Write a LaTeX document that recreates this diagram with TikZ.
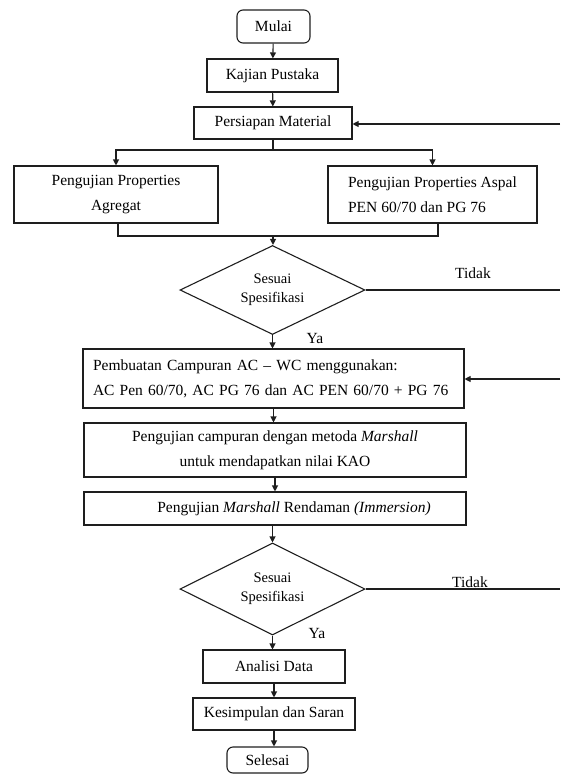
\documentclass[tikz,border=0pt]{standalone}
\usepackage{fontspec}
\setmainfont{Liberation Serif}
\usetikzlibrary{shapes.geometric,arrows.meta,calc}
\definecolor{ink}{HTML}{1E1E1E}
\newcommand{\mainf}{\fontsize{15.5}{25}\selectfont}
\newcommand{\decf}{\fontsize{14.5}{19}\selectfont}
\tikzset{
  box/.style={draw=ink, line width=1.1pt, rectangle, inner sep=0pt, align=center, font=\mainf, text=black},
  term/.style={box, rounded corners=6pt},
  dec/.style={draw=ink, line width=1.1pt, diamond, aspect=2, inner sep=0pt, align=center, font=\decf, text=black},
  lbl/.style={font=\mainf, inner sep=0pt, text=black},
  arr/.style={draw=ink, line width=1.1pt, -{Triangle[length=6pt,width=6pt]}},
  ln/.style={draw=ink, line width=1.1pt}
}
\begin{document}
\begin{tikzpicture}[x=1pt,y=-1pt]
\useasboundingbox (0,0) rectangle (560,776);
% nodes
\node[term, minimum width=73pt, minimum height=33pt] (mulai) at (273.5,26.5) {Mulai};
\node[box, minimum width=131pt, minimum height=33pt] (kp) at (272.5,75.5) {Kajian Pustaka};
\node[box, minimum width=158pt, minimum height=32pt] (pm) at (273,123) {Persiapan Material};
\node[box, minimum width=204pt, minimum height=57pt] (agr) at (116,194.5) {Pengujian Properties\\Agregat};
\node[box, align=left, minimum width=209pt, minimum height=57pt] (asp) at (432.5,194.5) {Pengujian Properties Aspal\\PEN 60/70 dan PG 76};
\node[dec, minimum width=185pt, minimum height=89pt] (d1) at (272.5,290) {Sesuai\\Spesifikasi};
\node[lbl] (t1) at (473,273) {Tidak};
\node[lbl] (y1) at (315,338) {Ya};
\node[box, align=left, text width=361pt, inner xsep=10pt, minimum height=59pt] (pc) at (273.5,378.5) {Pembuatan Campuran AC -- WC menggunakan:\\AC Pen 60/70, AC PG 76 dan AC PEN 60/70 + PG 76};
\node[box, minimum width=382pt, minimum height=54pt] (mar) at (275,450) {Pengujian campuran dengan metoda \textit{Marshall}\\untuk mendapatkan nilai KAO};
\node[box, minimum width=382pt, minimum height=33pt] (imm) at (275,508.5) {};
\node[lbl] (immt) at (294,508.5) {Pengujian \textit{Marshall} Rendaman \textit{(Immersion)}};
\node[dec, minimum width=185pt, minimum height=92pt] (d2) at (272.5,589) {Sesuai\\Spesifikasi};
\node[lbl] (t2) at (470,582) {Tidak};
\node[lbl] (y2) at (317,633) {Ya};
\node[box, minimum width=142pt, minimum height=33pt] (ad) at (274,666.5) {Analisi Data};
\node[box, minimum width=162pt, minimum height=32pt] (ks) at (274,714) {Kesimpulan dan Saran};
\node[term, minimum width=81pt, minimum height=26pt] (sel) at (267.5,760) {Selesai};
% coordinates
\coordinate (br) at (273,150);
\coordinate (mg) at (273,236);
\coordinate (rin1) at (560,124);
\coordinate (rout1) at (560,290);
\coordinate (rin2) at (560,379);
\coordinate (rout2) at (560,589);
% connectors
\draw[arr] (mulai) -- (kp);
\draw[arr] (kp) -- (pm);
\draw[ln] (pm.south) -- (br);
\draw[arr] (br) -| (agr.north);
\draw[arr] (br) -| (asp.north);
\draw[ln] ([xshift=2pt]agr.south) |- (mg);
\draw[ln] ([xshift=5.5pt]asp.south) |- (mg);
\draw[arr] (mg) -- (mg |- d1.north);
\draw[arr] (rin1) -- (rin1 -| pm.east);
\draw[ln] (d1.east) -- (rout1);
\draw[arr] (d1.south) -- (d1.south |- pc.north);
\draw[arr] (rin2) -- (rin2 -| pc.east);
\draw[arr] (pc.south) -- (pc.south |- mar.north);
\draw[arr] (mar.south) -- (mar.south |- imm.north);
\draw[arr] (imm.south -| d2.north) -- (d2.north);
\draw[ln] (d2.east) -- (rout2);
\draw[arr] (d2.south) -- (d2.south |- ad.north);
\draw[arr] (ad.south) -- (ad.south |- ks.north);
\draw[arr] (ks.south) -- (ks.south |- sel.north);
\end{tikzpicture}
\end{document}
